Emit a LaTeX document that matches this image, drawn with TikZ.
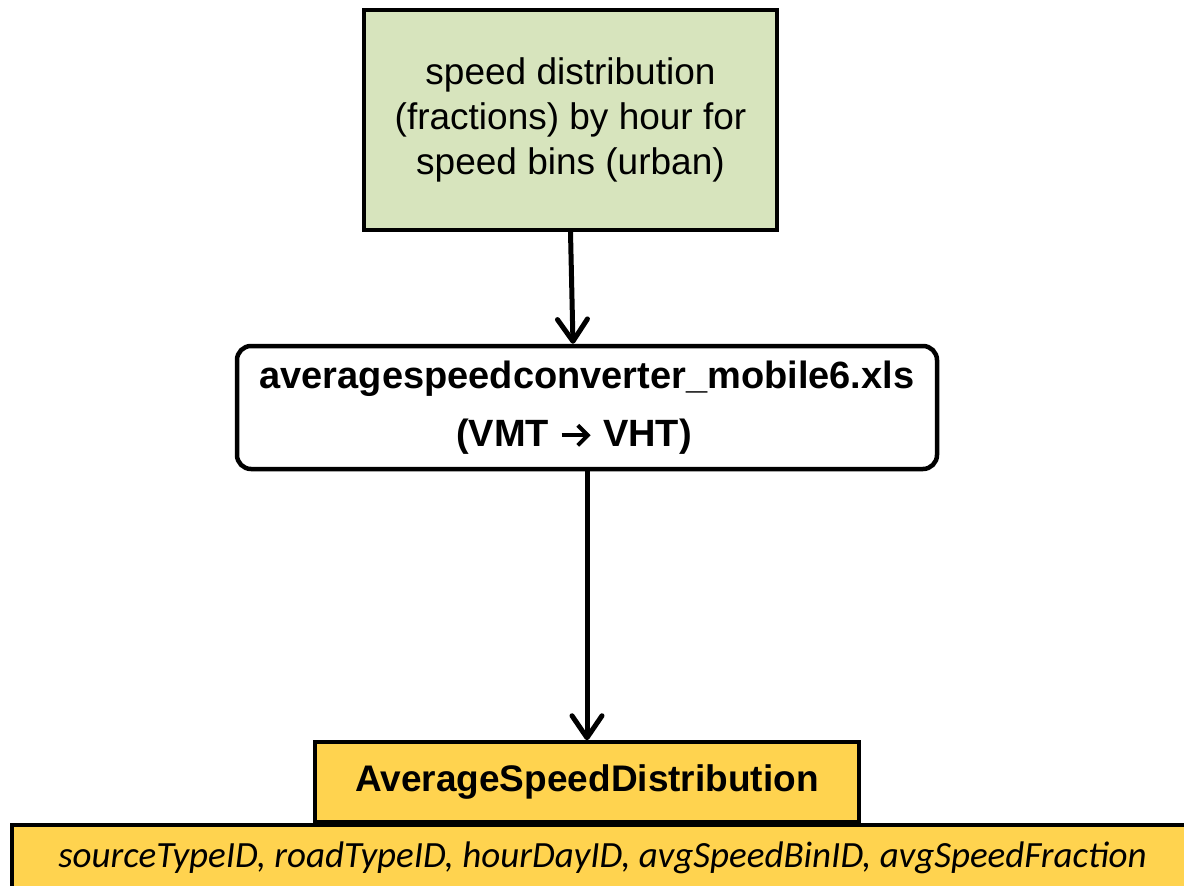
\documentclass[tikz,border=0pt]{standalone}
\usepackage{fontspec}
\setmainfont{Liberation Sans}
\newfontfamily\fieldfont{Carlito}
\usetikzlibrary{arrows.meta}

\definecolor{srcgreen}{HTML}{D7E4BD}
\definecolor{tablegold}{HTML}{FFD34F}

\tikzset{
  srcbox/.style={draw=black, line width=4pt, fill=srcgreen, align=center,
    font=\fontsize{37}{45}\selectfont, inner sep=0pt},
  procbox/.style={draw=black, line width=4.5pt, fill=white, rounded corners=14pt,
    align=center, font=\bfseries\fontsize{38}{58}\selectfont, inner sep=0pt},
  tablebox/.style={draw=black, line width=3.5pt, fill=tablegold, inner sep=0pt},
  flow/.style={line width=5pt, line cap=round,
    -{Straight Barb[length=22pt, width=30pt, line width=5pt, line cap=round, line join=round]}},
  textarrow/.style={line width=4pt,
    -{Straight Barb[length=10pt, width=20pt, line width=4pt, line join=miter]}},
}

% bold in-line arrow used in the converter label
\newcommand{\convarrow}{\tikz[baseline={(0pt,-11pt)}]\draw[textarrow] (0pt,0pt) -- (29pt,0pt);}

\begin{document}
\begin{tikzpicture}[x=1pt, y=-1pt]
  \useasboundingbox (0,0) rectangle (1184,886);
  \clip (0,0) rectangle (1184,886);

  % input data
  \node[srcbox, minimum width=413pt, minimum height=220pt] (src) at (570.5,120)
    {speed distribution\\(fractions) by hour for\\speed bins (urban)};

  % converter spreadsheet
  \node[procbox, minimum width=700pt, minimum height=123pt] (conv) at (587,407.5)
    {averagespeedconverter\_mobile6.xls\\\hspace*{-26pt}(VMT \convarrow{} VHT)};

  % output table: name and fields
  \node[tablebox, minimum width=544pt, minimum height=80pt,
        font=\bfseries\fontsize{37}{44}\selectfont] (tbl) at (587,782)
    {AverageSpeedDistribution};
  \node[tablebox, line width=4pt, minimum width=1220pt, minimum height=90pt,
        anchor=north west] (fields) at (10,823) {};
  \node[font=\fieldfont\itshape\fontsize{37}{44}\selectfont, inner sep=0pt] (fieldnames) at (602.5,858)
    {sourceTypeID, roadTypeID, hourDayID, avgSpeedBinID, avgSpeedFraction};

  % data flow
  \draw[flow] (src.south) -- ([xshift=-14pt]conv.north);
  \draw[flow] (conv.south) -- (tbl.north);
\end{tikzpicture}
\end{document}
